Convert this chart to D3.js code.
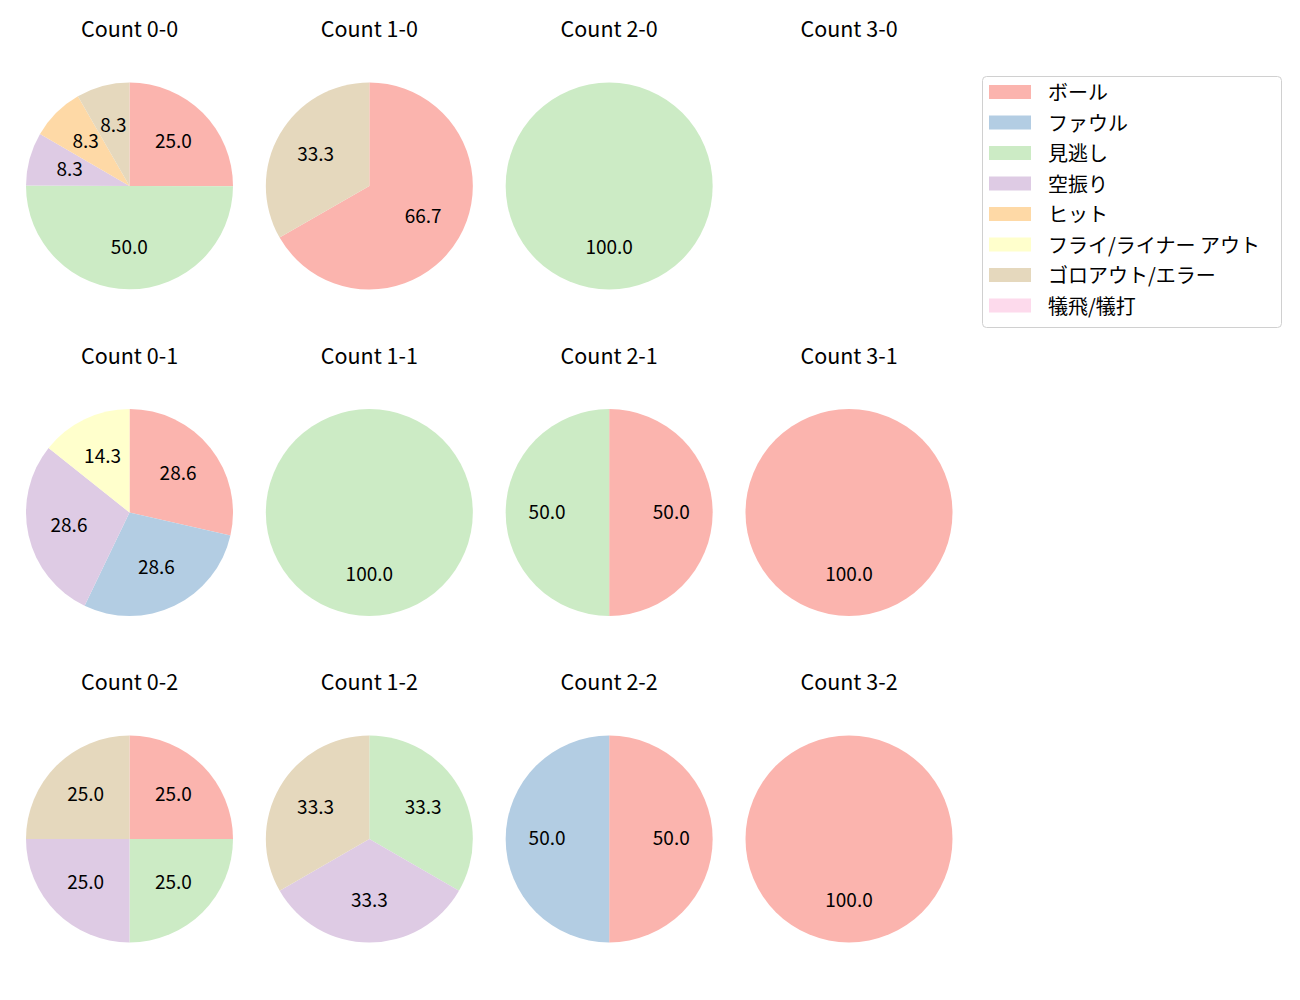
<!DOCTYPE html>
<html><head><meta charset="utf-8">
<script src="https://cdn.jsdelivr.net/npm/d3@7"></script>
<style>body{margin:0;background:#fff;} svg{display:block;}</style>
</head><body>
<svg id="chart" width="1300" height="1000"></svg>
<script>
const categories = ["ボール","ファウル","見逃し","空振り","ヒット","フライ/ライナー アウト","ゴロアウト/エラー","犠飛/犠打"];
const colors = ["#fbb4ae","#b3cde3","#ccebc5","#decbe4","#fed9a6","#ffffcc","#e5d8bd","#fddaec"];
const titles = ["Count 0-0","Count 1-0","Count 2-0","Count 3-0",
                "Count 0-1","Count 1-1","Count 2-1","Count 3-1",
                "Count 0-2","Count 1-2","Count 2-2","Count 3-2"];
// percent per category, in category order
const count00 = [25.0,0,50.0,8.3,8.3,0,8.3,0];
const count10 = [66.7,0,0,0,0,0,33.3,0];
const count20 = [0,0,100.0,0,0,0,0,0];
const count30 = [0,0,0,0,0,0,0,0];
const count01 = [28.6,28.6,0,28.6,0,14.3,0,0];
const count11 = [0,0,100.0,0,0,0,0,0];
const count21 = [50.0,0,50.0,0,0,0,0,0];
const count31 = [100.0,0,0,0,0,0,0,0];
const count02 = [25.0,0,25.0,25.0,0,0,25.0,0];
const count12 = [0,0,33.3,33.3,0,0,33.3,0];
const count22 = [50.0,50.0,0,0,0,0,0,0];
const count32 = [100.0,0,0,0,0,0,0,0];
const allValues = [count00,count10,count20,count30,count01,count11,count21,count31,count02,count12,count22,count32];

const svg = d3.select("#chart");
const font = "'Noto Sans CJK JP','Noto Sans',sans-serif";
const colX = d3.scaleLinear().domain([0,3]).range([129.5,849]);
const rowY = d3.scaleLinear().domain([0,2]).range([186,839]);
const R = 103.5;
const color = d3.scaleOrdinal().domain(categories).range(colors);
const pie = d3.pie().sort(null).value(d=>d.v).startAngle(0).endAngle(2*Math.PI);
const arc = d3.arc().innerRadius(0).outerRadius(R);
const labelArc = d3.arc().innerRadius(R*0.6).outerRadius(R*0.6);

allValues.forEach((vals,i)=>{
  const c = i%4, r = Math.floor(i/4);
  const g = svg.append("g").attr("transform",`translate(${colX(c)},${rowY(r)})`);
  g.append("text").attr("x",0).attr("y",-149).attr("text-anchor","middle")
    .attr("font-family",font).attr("font-size",21.5).attr("fill","#000").text(titles[i]);
  const data = vals.map((v,k)=>({cat:categories[k],v})).filter(d=>d.v>0);
  if(!data.length) return;
  const arcs = pie(data);
  g.selectAll("path").data(arcs).join("path").attr("d",arc).attr("fill",d=>color(d.data.cat));
  g.selectAll("text.lbl").data(arcs).join("text").attr("class","lbl")
    .attr("transform",d=>{const p=labelArc.centroid(d);return `translate(${p[0]},${p[1]-2.5})`;})
    .attr("text-anchor","middle").attr("dominant-baseline","central")
    .attr("font-family",font).attr("font-size",19).attr("fill","#000")
    .text(d=>d.data.v.toFixed(1));
});

// legend
const lg = svg.append("g").attr("transform","translate(982,76)");
lg.append("rect").attr("x",0.5).attr("y",0.5).attr("width",299).attr("height",251).attr("rx",4)
  .attr("fill","#fff").attr("stroke","#d0d0d0");
const ly = d3.scaleLinear().domain([0,7]).range([16,229.5]);
categories.forEach((cat,k)=>{
  lg.append("rect").attr("x",7).attr("y",ly(k)-7).attr("width",42).attr("height",14).attr("fill",color(cat));
  lg.append("text").attr("x",66).attr("y",ly(k)-0.5).attr("dominant-baseline","central")
    .attr("font-family",font).attr("font-size",20).attr("fill","#000").text(cat);
});
</script>
</body></html>
